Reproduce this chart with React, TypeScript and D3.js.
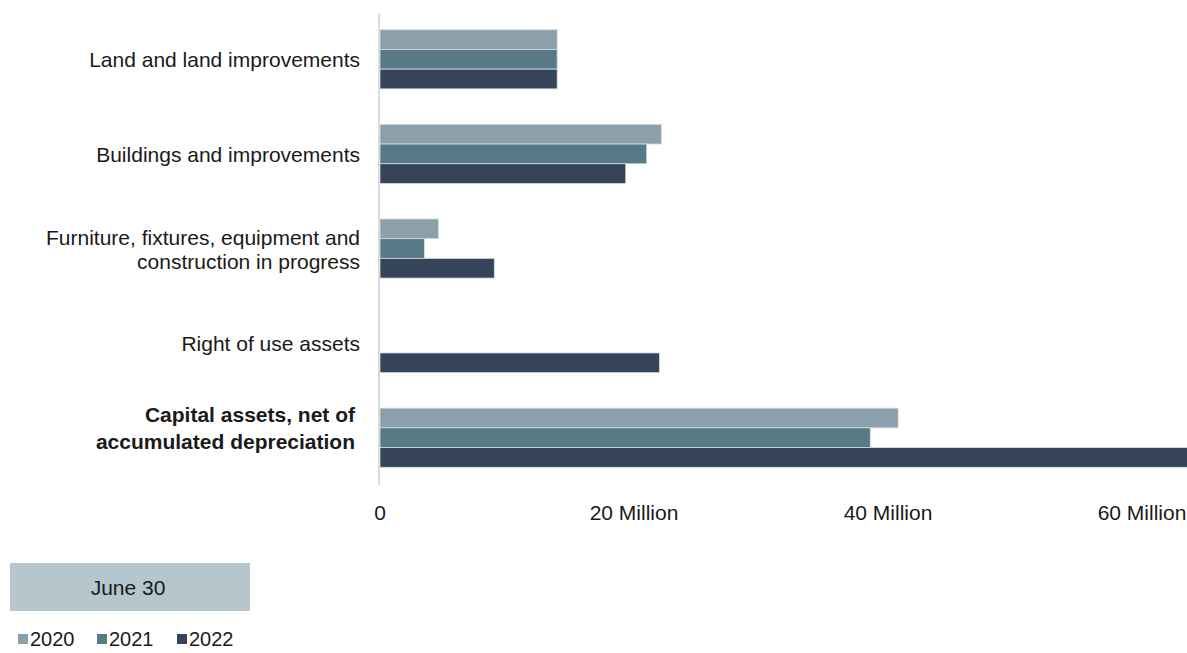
import React from "react";
import * as d3 from "d3";

const categories = [
  "Land and land improvements",
  "Buildings and improvements",
  "Furniture, fixtures, equipment and construction in progress",
  "Right of use assets",
  "Capital assets, net of accumulated depreciation",
];
const categoryLines = [
  ["Land and land improvements"],
  ["Buildings and improvements"],
  ["Furniture, fixtures, equipment and", "construction in progress"],
  ["Right of use assets"],
  ["Capital assets, net of", "accumulated depreciation"],
];
const boldCategory = [false, false, false, false, true];
const years = ["2020", "2021", "2022"];
const values2020 = [13.95, 22.15, 4.6, 0, 40.8];
const values2021 = [13.95, 21.0, 3.5, 0, 38.6];
const values2022 = [13.95, 19.35, 9.0, 22.0, 65.0];
const seriesValues = [values2020, values2021, values2022];
const colors = ["#8ca0ab", "#587a87", "#36445a"];
const xTicks = [0, 20, 40, 60];
const tickLabel = (v: number) => (v === 0 ? "0" : `${v} Million`);
const legendTitle = "June 30";

const W = 1187;
const H = 653;
const FONT = "'Liberation Sans', Arial, sans-serif";
const FS = 21;

export default function App() {
  const x = d3.scaleLinear().domain([0, 60]).range([380, 1142]);
  const y = d3
    .scaleBand<string>()
    .domain(categories)
    .range([12, 485])
    .paddingInner(0.375)
    .paddingOuter(0.1875);
  const yInner = d3.scaleBand<string>().domain(years).range([0, y.bandwidth()]);

  return (
    <svg
      width={W}
      height={H}
      style={{ position: "absolute", left: 0, top: 0, fontFamily: FONT }}
    >
      <rect width={W} height={H} fill="#fff" />
      {categories.map((c, ci) => (
        <g key={c} transform={`translate(0,${y(c)})`}>
          {years.map((yr, si) => {
            const v = seriesValues[si][ci];
            if (!v) return null;
            return (
              <rect
                key={yr}
                x={x(0)}
                y={yInner(yr)}
                width={x(v) - x(0)}
                height={yInner.bandwidth()}
                fill={colors[si]}
                stroke="#d4dce2"
                strokeWidth={0.8}
              />
            );
          })}
        </g>
      ))}
      <line x1={379} x2={379} y1={13} y2={485} stroke="#dcdcdc" strokeWidth={2} />
      {categories.map((c, ci) => {
        const lines = categoryLines[ci];
        const bold = boldCategory[ci];
        const lh = bold ? 27 : 24;
        const lx = bold ? 355 : 360;
        const center = (y(c) as number) + y.bandwidth() / 2 + (bold ? -10 : 0);
        const start = center - ((lines.length - 1) * lh) / 2;
        return (
          <text
            key={c}
            x={lx}
            textAnchor="end"
            fontSize={FS}
            fontWeight={bold ? "bold" : "normal"}
            fill="#1a1a1a"
            dominantBaseline="central"
          >
            {lines.map((l, li) => (
              <tspan key={li} x={lx} y={start + li * lh}>
                {l}
              </tspan>
            ))}
          </text>
        );
      })}
      {xTicks.map((t) => (
        <text
          key={t}
          x={x(t)}
          y={512}
          textAnchor="middle"
          dominantBaseline="central"
          fontSize={FS}
          fill="#1a1a1a"
        >
          {tickLabel(t)}
        </text>
      ))}
      <rect x={10} y={563} width={240} height={48} fill="#b5c7cd" />
      <text
        x={128}
        y={587}
        textAnchor="middle"
        dominantBaseline="central"
        fontSize={FS}
        fill="#1a1a1a"
      >
        {legendTitle}
      </text>
      {years.map((yr, i) => {
        const lx = [18, 97, 177][i];
        return (
          <g key={yr}>
            <rect x={lx} y={634} width={10} height={10} fill={colors[i]} />
            <text x={lx + 12} y={639} dominantBaseline="central" fontSize={20} fill="#1a1a1a">
              {yr}
            </text>
          </g>
        );
      })}
    </svg>
  );
}
